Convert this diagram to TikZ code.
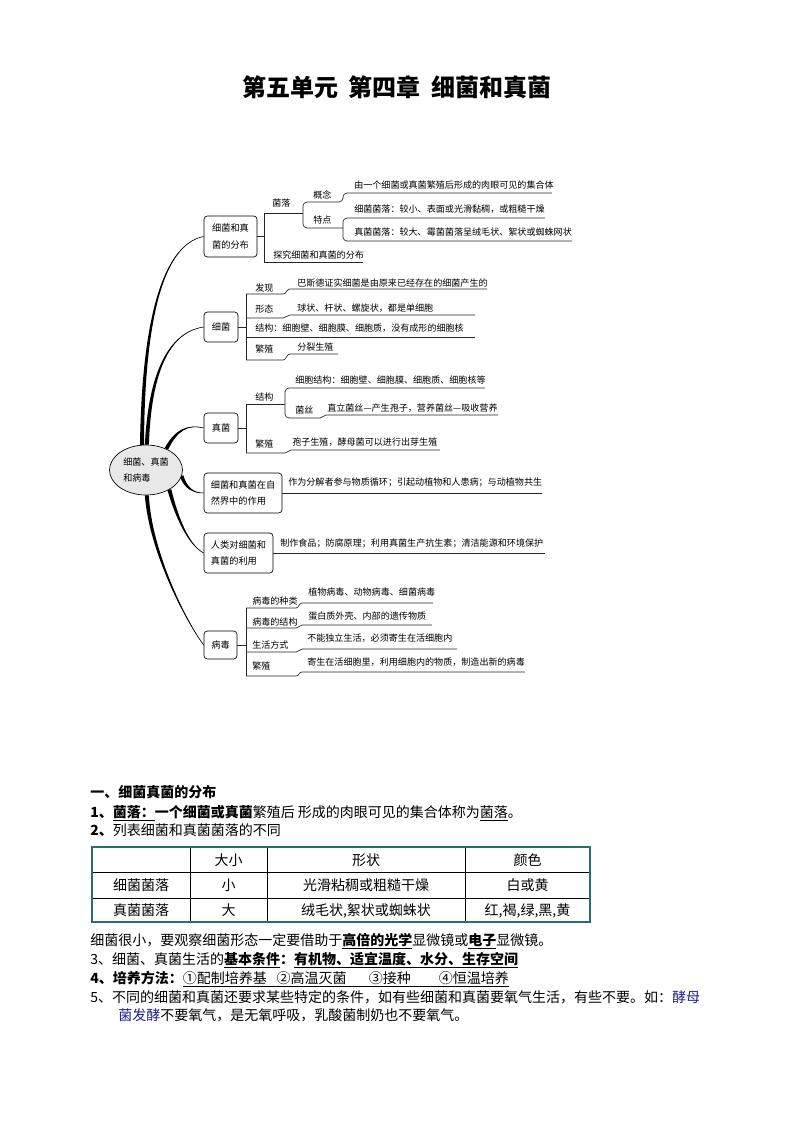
\documentclass[tikz,border=0pt]{standalone}
\usepackage{fontspec}
\setmainfont{Noto Sans CJK SC}
\usetikzlibrary{shapes.geometric,calc,backgrounds}
\definecolor{tealb}{RGB}{40,110,110}
\definecolor{navyb}{RGB}{30,30,140}
% tapered mind-map branch: start, ctrl1, ctrl2, end, half-width vector
\newcommand{\mmbranch}[5]{%
  \fill[black] ($#1+#5$) .. controls ($#2+0.7*#5$) and ($#3+0.25*#5$) .. #4
     .. controls ($#3-0.25*#5$) and ($#2-0.7*#5$) .. ($#1-#5$) -- cycle;
  \draw[line width=0.4pt] #1 .. controls #2 and #3 .. #4;}
\begin{document}
\begin{tikzpicture}[x=0.75pt,y=-0.75pt,
  lf/.style={font=\fontsize{6.8pt}{8pt}\selectfont, inner sep=0pt, anchor=west, text height=5.44pt, text depth=0.34pt},
  bx/.style={draw, rounded corners=2.5pt, line width=0.5pt, font=\fontsize{6.9pt}{12.5pt}\selectfont, align=left, inner sep=0pt},
  ln/.style={line width=0.5pt, black!85},
  bt/.style={font=\fontsize{10.5pt}{12pt}\selectfont, inner sep=0pt, anchor=west, text height=8.4pt, text depth=0.5pt},
  tc/.style={font=\fontsize{10.5pt}{12pt}\selectfont, inner sep=0pt, text height=8.4pt, text depth=0.5pt},
  ttl/.style={font=\fontsize{18pt}{20pt}\selectfont\bfseries, inner sep=0pt, text height=14.4pt, text depth=0.9pt}]
\useasboundingbox (0,0) rectangle (794,1123);

% title
\node[ttl] (title) at (397,88) {第五单元\hspace{0.45em}第四章\hspace{0.45em}细菌和真菌};

% centre and main boxes
\node[ellipse, draw, fill=gray!18, line width=0.5pt, minimum width=54.75pt, minimum height=37.5pt, inner sep=0pt, align=left, font=\fontsize{6.8pt}{12pt}\selectfont] (c) at (146,470) {细菌、真菌\\和病毒};
\node[bx, fill=white, minimum width=39.75pt, minimum height=30.75pt] (b1) at (230.5,236.5) {细菌和真\\菌的分布};
\node[bx, fill=white, minimum width=25.5pt, minimum height=22.5pt] (b2) at (221,327) {细菌};
\node[bx, fill=white, minimum width=25.5pt, minimum height=22.5pt] (b3) at (221,428) {真菌};
\node[bx, fill=white, minimum width=58.5pt, minimum height=30pt] (b4) at (243,493) {细菌和真菌在自\\然界中的作用};
\node[bx, fill=white, minimum width=51.75pt, minimum height=30pt] (b5) at (238.5,553) {人类对细菌和\\真菌的利用};
\node[bx, fill=white, minimum width=24.75pt, minimum height=21pt] (b6) at (220.5,645) {病毒};

\begin{scope}[on background layer]
\mmbranch{(c.99)}{(143,330)}{(160,245)}{(b1.west)}{(2,0)}
\mmbranch{(c.88)}{(150,370)}{(170,332)}{(b2.west)}{(2,0)}
\mmbranch{(c.46)}{(176,430)}{(188,424)}{(b3.west)}{(1.7,0.8)}
\mmbranch{(c.-10)}{(186,488)}{(193,493)}{(b4.west)}{(1.55,-1.1)}
\mmbranch{(c.-40)}{(176,515)}{(188,545)}{(b5.west)}{(1.9,-0.45)}
\mmbranch{(c.-88)}{(150,550)}{(185,620)}{(b6.west)}{(2,0)}
\end{scope}

% branch 1
\draw[ln] (b1.east) -- (264,236.5);
\draw[ln] (303,213) -- (264,213) -- (264,262) -- (363,262);
\draw[ln, rounded corners=3] (552,193) -- (343,193) -- (343,202) -- (303,202) -- (303,228) -- (343,228);
\draw[ln, rounded corners=3] (545,218) -- (343,218) -- (343,241) -- (572,241);
\node[lf] (t11) at (272,203) {菌落};
\node[lf] (t12) at (313,195) {概念};
\node[lf] (t13) at (313,220) {特点};
\node[lf] (t14) at (354,185) {由一个细菌或真菌繁殖后形成的肉眼可见的集合体};
\node[lf] (t15) at (354,209) {细菌菌落：较小、表面或光滑黏稠，或粗糙干燥};
\node[lf] (t16) at (354,232) {真菌菌落：较大、霉菌菌落呈绒毛状、絮状或蜘蛛网状};
\node[lf] (t17) at (273,255) {探究细菌和真菌的分布};

% branch 2
\draw[ln] (b2.east) -- (246,327);
\draw[ln] (246,294) -- (246,360);
\draw[ln] (246,294) -- (283,294) to[out=0,in=180] (290,289) -- (487,289);
\draw[ln] (246,318) -- (283,318) to[out=0,in=180] (290,315) -- (475,315);
\draw[ln] (246,337) -- (475,337);
\draw[ln] (246,360) -- (283,360) to[out=0,in=180] (290,354) -- (338,354);
\node[lf] (t21) at (255,288) {发现};
\node[lf] (t22) at (297,283) {巴斯德证实细菌是由原来已经存在的细菌产生的};
\node[lf] (t23) at (255,309) {形态};
\node[lf] (t24) at (297,308) {球状、杆状、螺旋状，都是单细胞};
\node[lf] (t25) at (255,328) {结构：细胞壁、细胞膜、细胞质，没有成形的细胞核};
\node[lf] (t26) at (255,349) {繁殖};
\node[lf] (t27) at (297,347) {分裂生殖};

% branch 3
\draw[ln] (b3.east) -- (246,428);
\draw[ln] (246,404) -- (246,453);
\draw[ln] (246,404) -- (285,404);
\draw[ln, rounded corners=3] (485,388) -- (285,388) -- (285,418) -- (320,418);
\draw[ln] (320,418) to[out=0,in=180] (326,415) -- (498,415);
\draw[ln] (246,453) -- (285,453) to[out=0,in=180] (291,450) -- (440,450);
\node[lf] (t31) at (255,397) {结构};
\node[lf] (t32) at (295,380) {细胞结构：细胞壁、细胞膜、细胞质、细胞核等};
\node[lf] (t33) at (295,410) {菌丝};
\node[lf] (t34) at (327,408) {直立菌丝—产生孢子，营养菌丝—吸收营养};
\node[lf] (t35) at (255,444) {繁殖};
\node[lf] (t36) at (292,442) {孢子生殖，酵母菌可以进行出芽生殖};

% branch 4, 5
\draw[ln] (b4.east) -- (542,493);
\node[lf] (t41) at (288,482) {作为分解者参与物质循环；引起动植物和人患病；与动植物共生};
\draw[ln] (b5.east) -- (545,553);
\node[lf] (t51) at (280,543) {制作食品；防腐原理；利用真菌生产抗生素；清洁能源和环境保护};

% branch 6
\draw[ln] (b6.east) -- (246,645);
\draw[ln] (246,608) -- (246,676);
\draw[ln] (246,608) -- (296,608) to[out=0,in=180] (302,603) -- (433,603);
\draw[ln] (246,628) -- (296,628) to[out=0,in=180] (302,625) -- (432,625);
\draw[ln] (246,652) -- (296,652) to[out=0,in=180] (302,649) -- (457,649);
\draw[ln] (246,676) -- (296,676) to[out=0,in=180] (302,672) -- (525,672);
\node[lf] (t61) at (252,601) {病毒的种类};
\node[lf] (t62) at (308,592) {植物病毒、动物病毒、细菌病毒};
\node[lf] (t63) at (252,622) {病毒的结构};
\node[lf] (t64) at (308,616) {蛋白质外壳、内部的遗传物质};
\node[lf] (t65) at (252,645) {生活方式};
\node[lf] (t66) at (307,638) {不能独立生活，必须寄生在活细胞内};
\node[lf] (t67) at (252,666) {繁殖};
\node[lf] (t68) at (307,662) {寄生在活细胞里，利用细胞内的物质，制造出新的病毒};

% lower text
\node[bt] (h1) at (90,792) {\textbf{一、细菌真菌的分布}};
\node[bt] (p1) at (90,812) {\textbf{1、\underline{菌落：}一个细菌或真菌}繁殖后 形成的肉眼可见的集合体称为\underline{菌落}。};
\node[bt] (p2) at (90,830) {\textbf{2、}列表细菌和真菌菌落的不同};

% table
\draw[line width=0.5pt] (190,847) -- (190,922) (267,847) -- (267,922) (465,847) -- (465,922)
  (92,872) -- (590,872) (92,898) -- (590,898);
\draw[tealb, line width=1.6pt] (92,847) rectangle (590,922);
\node[tc] (k12) at (228.5,860) {大小};
\node[tc] (k13) at (366,860) {形状};
\node[tc] (k14) at (527.5,860) {颜色};
\node[tc] (k21) at (141,885) {细菌菌落};
\node[tc] (k22) at (228.5,885) {小};
\node[tc] (k23) at (366,885) {光滑粘稠或粗糙干燥};
\node[tc] (k24) at (527.5,885) {白或黄};
\node[tc] (k31) at (141,910) {真菌菌落};
\node[tc] (k32) at (228.5,910) {大};
\node[tc] (k33) at (366,910) {绒毛状,絮状或蜘蛛状};
\node[tc] (k34) at (527.5,910) {红,褐,绿,黑,黄};

\node[bt] (p3) at (90,940) {细菌很小，要观察细菌形态一定要借助于\textbf{\underline{高倍的光学}}显微镜或\textbf{\underline{电子}}显微镜。};
\node[bt] (p4) at (90,959) {3、细菌、真菌生活的\textbf{\underline{基本条件}：\underline{有机物、适宜温度、水分、生存空间}}};
\node[bt] (p5) at (90,978) {\textbf{4、培养方法：}\underline{①配制培养基\hspace{0.7em}②高温灭菌\hspace{1.6em}③接种\hspace{2em}④恒温培养}};
\node[bt] (p6) at (90,997) {5、不同的细菌和真菌还要求某些特定的条件，如有些细菌和真菌要氧气生活，有些不要。如：\textcolor{navyb}{酵母}};
\node[bt] (p7) at (118,1015) {\textcolor{navyb}{菌发酵}不要氧气，是无氧呼吸，乳酸菌制奶也不要氧气。};
\end{tikzpicture}
\end{document}
